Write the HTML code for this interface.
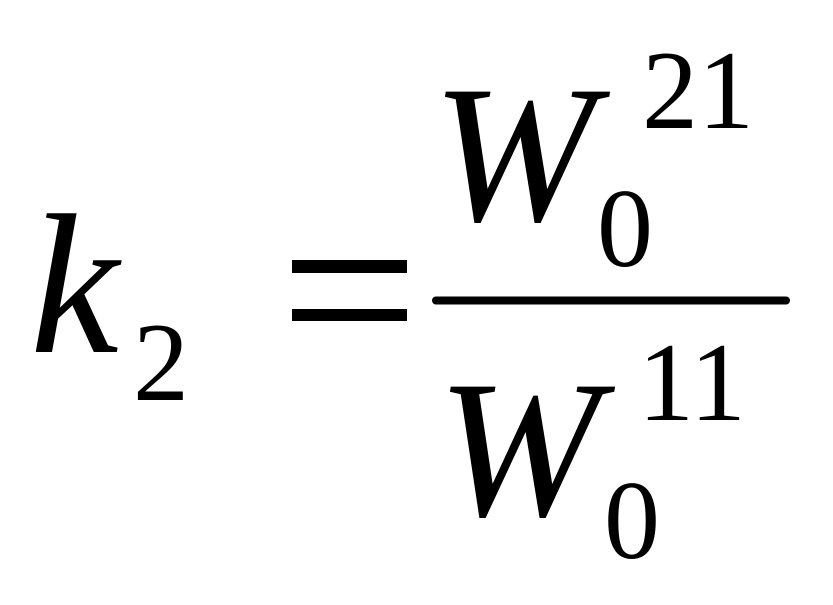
<!DOCTYPE html>
<html><head><meta charset="utf-8"><style>html,body{margin:0;padding:0;background:#fff;}</style></head>
<body>
<svg width="833" height="600" viewBox="0 0 833 600" xmlns="http://www.w3.org/2000/svg">
<rect width="833" height="600" fill="#fff"/>
<g font-family="Liberation Serif, serif" fill="#000">
<text x="30" y="352" font-size="200" font-style="italic">k</text>
<text x="133" y="400" font-size="112">2</text>
<rect x="292" y="260" width="115" height="13"/>
<rect x="292" y="309" width="115" height="12"/>
<line x1="436" y1="300.5" x2="786" y2="300.5" stroke="#000" stroke-width="8" stroke-linecap="round"/>
<text x="432" y="220" font-size="196" font-style="italic">W</text>
<text x="597" y="266" font-size="112">0</text>
<text x="642" y="128" font-size="112">21</text>
<text x="437" y="515" font-size="196" font-style="italic">W</text>
<text x="604" y="558" font-size="112">0</text>
<text x="638" y="420" font-size="112">11</text>
</g>
</svg>
</body></html>
